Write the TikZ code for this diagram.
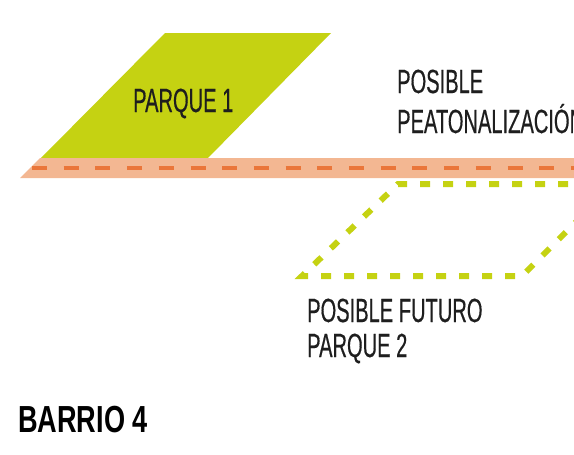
\documentclass[tikz,border=0pt]{standalone}
\usepackage{fontspec}
\newfontfamily\condfont[FakeStretch=0.60,FakeBold=0.4]{Liberation Sans}
\newfontfamily\condboldfont[FakeStretch=0.72]{Liberation Sans Bold}
\definecolor{parkgreen}{RGB}{197,210,18}
\definecolor{bandorange}{RGB}{243,183,146}
\definecolor{dashorange}{RGB}{234,118,58}
\definecolor{labelgray}{RGB}{30,30,30}
\begin{document}
\begin{tikzpicture}[x=1pt,y=-1pt,
  lbl/.style={anchor=base west, inner sep=0pt, text=labelgray, font=\condfont\fontsize{33.5}{38}\selectfont},
  titlelbl/.style={anchor=base west, inner sep=0pt, text=black, font=\condboldfont\fontsize{37.7}{44}\selectfont},
  parkfill/.style={fill=parkgreen},
  bandfill/.style={fill=bandorange},
  banddash/.style={draw=dashorange, line width=3.5pt, dash pattern=on 15pt off 16.7pt},
  parkdash/.style={draw=parkgreen, line width=6pt, dash pattern=on 10pt off 13pt}]
\useasboundingbox (0,0) rectangle (574,455);
\clip (0,0) rectangle (574,455);
% park 1
\path[parkfill] (41,158) -- (165,33) -- (331,33) -- (208,158) -- cycle;
% pedestrian band
\path[bandfill] (40,158) -- (574,158) -- (574,178) -- (20,178) -- cycle;
\path[banddash] (32,168) -- (574,168);
% possible future park 2
\path[parkdash] (614,184) -- (398,184) -- (302,276) -- (522,276) -- (614,184);
% labels
\node[lbl] (parque1) at (133,112) {PARQUE 1};
\node[lbl] (posible) at (397,93) {POSIBLE};
\node[lbl] (peaton) at (397,133) {PEATONALIZACIÓN};
\node[lbl] (futuro) at (307,322) {POSIBLE FUTURO};
\node[lbl] (parque2) at (307,357) {PARQUE 2};
\node[titlelbl] (barrio) at (18,432) {BARRIO 4};
\end{tikzpicture}
\end{document}
